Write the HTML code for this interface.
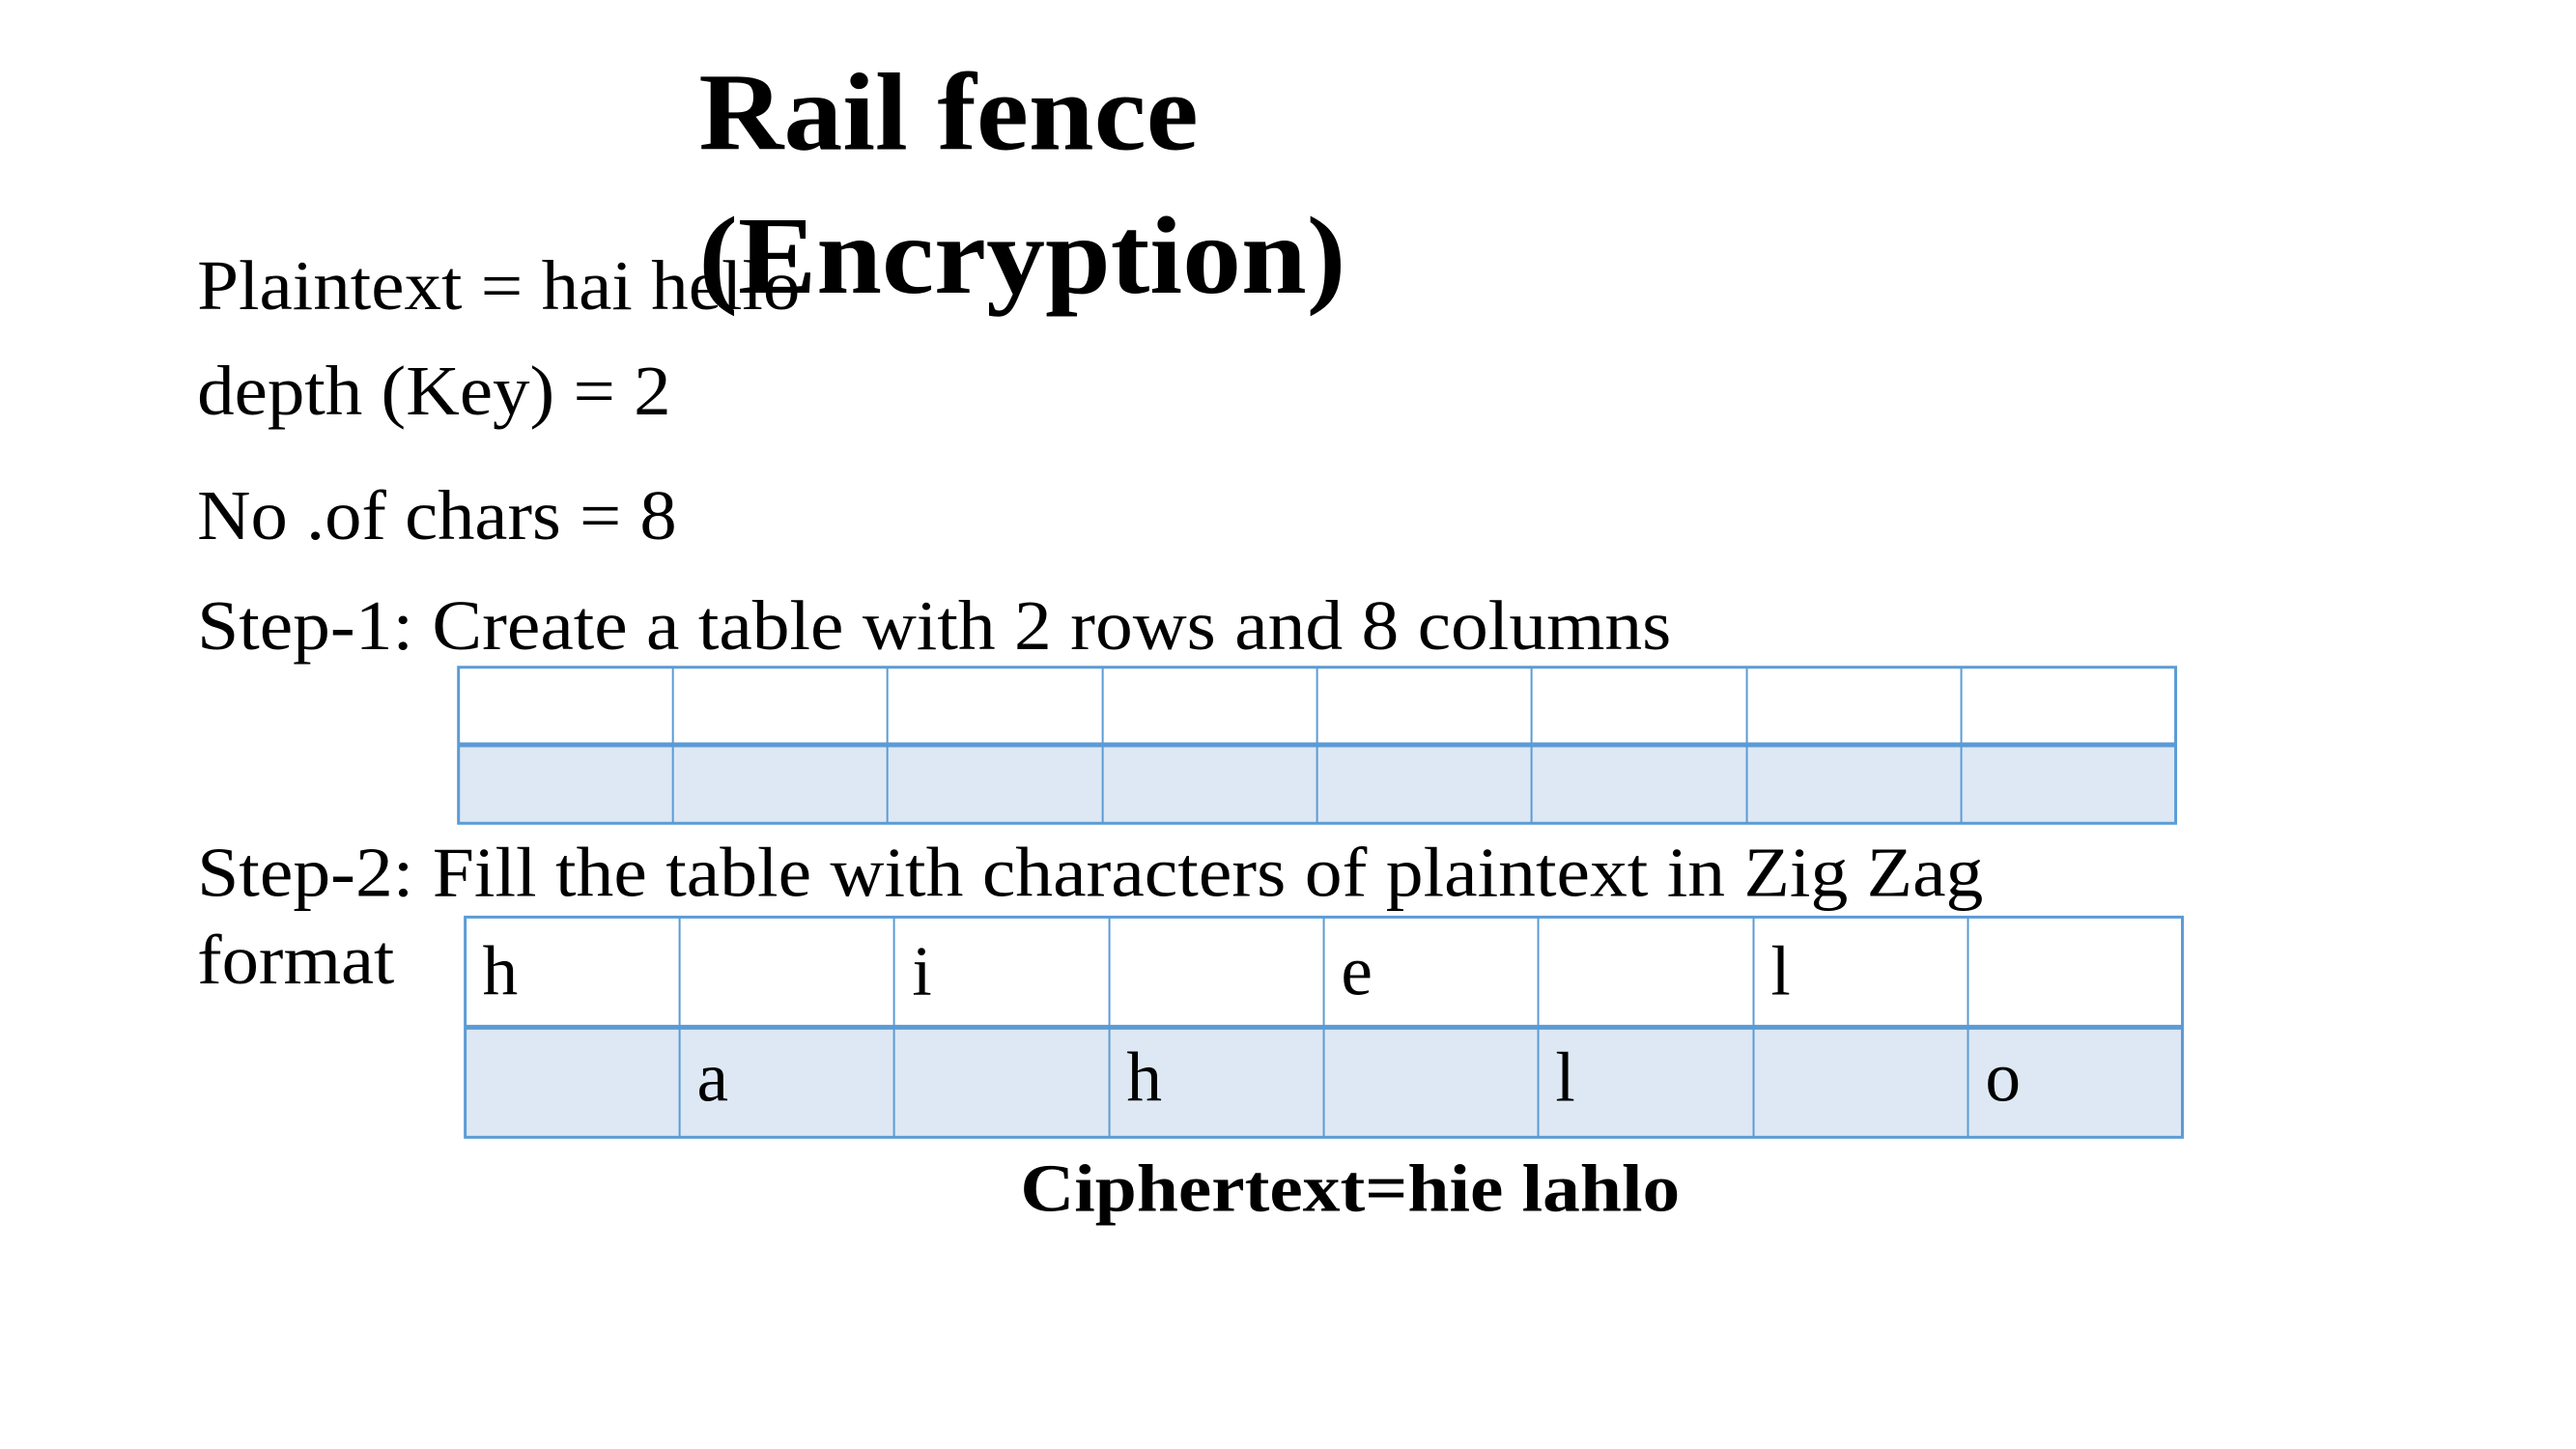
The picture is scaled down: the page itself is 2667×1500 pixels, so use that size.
<!DOCTYPE html>
<html><head><meta charset="utf-8"><style>
html,body{margin:0;padding:0;background:#fff;width:2667px;height:1500px;overflow:hidden}
svg{display:block}
text{font-family:"Liberation Serif",serif;fill:#000}
</style></head><body>
<svg width="2667" height="1500" xmlns="http://www.w3.org/2000/svg">
<g transform="scale(0.991)">
<g font-size="74">
<text x="206" y="323" textLength="630" lengthAdjust="spacingAndGlyphs">Plaintext = hai hello</text>
<text x="206" y="433" textLength="495" lengthAdjust="spacingAndGlyphs">depth (Key) = 2</text>
<text x="206" y="563" textLength="501" lengthAdjust="spacingAndGlyphs">No .of chars = 8</text>
<text x="206" y="678" textLength="1540" lengthAdjust="spacingAndGlyphs">Step-1: Create a table with 2 rows and 8 columns</text>
<text x="206" y="936" textLength="1866" lengthAdjust="spacingAndGlyphs">Step-2: Fill the table with characters of plaintext in Zig Zag</text>
<text x="206" y="1027" textLength="206" lengthAdjust="spacingAndGlyphs">format</text>
</g>
<g font-size="116" font-weight="bold">
<text x="730" y="156" textLength="522" lengthAdjust="spacingAndGlyphs">Rail fence</text>
<text x="730" y="306" textLength="676" lengthAdjust="spacingAndGlyphs">(Encryption)</text>
</g>
<text x="1066" y="1265" font-size="70" font-weight="bold" textLength="689" lengthAdjust="spacingAndGlyphs">Ciphertext=hie lahlo</text>

<rect x="479" y="778" width="1794" height="82" fill="#dde8f4"/>
<g stroke="#5b9bd5" fill="none">
<rect x="479" y="697" width="1794" height="163" stroke-width="3"/>
<line x1="479" y1="778" x2="2273" y2="778" stroke-width="5"/>
<g stroke-width="2">
<line x1="703" y1="697" x2="703" y2="860"/><line x1="927" y1="697" x2="927" y2="860"/>
<line x1="1152" y1="697" x2="1152" y2="860"/><line x1="1376" y1="697" x2="1376" y2="860"/>
<line x1="1600" y1="697" x2="1600" y2="860"/><line x1="1825" y1="697" x2="1825" y2="860"/>
<line x1="2049" y1="697" x2="2049" y2="860"/>
</g></g>

<rect x="486" y="1073" width="1794" height="115" fill="#dde8f4"/>
<g stroke="#5b9bd5" fill="none">
<rect x="486" y="958" width="1794" height="230" stroke-width="3"/>
<line x1="486" y1="1073" x2="2280" y2="1073" stroke-width="5"/>
<g stroke-width="2">
<line x1="710" y1="958" x2="710" y2="1188"/><line x1="934" y1="958" x2="934" y2="1188"/>
<line x1="1159" y1="958" x2="1159" y2="1188"/><line x1="1383" y1="958" x2="1383" y2="1188"/>
<line x1="1607" y1="958" x2="1607" y2="1188"/><line x1="1832" y1="958" x2="1832" y2="1188"/>
<line x1="2056" y1="958" x2="2056" y2="1188"/>
</g></g>
<g font-size="74">
<text x="504" y="1039">h</text>
<text x="953" y="1039">i</text>
<text x="1401" y="1039">e</text>
<text x="1850" y="1039">l</text>
<text x="728" y="1150">a</text>
<text x="1177" y="1150">h</text>
<text x="1625" y="1150">l</text>
<text x="2074" y="1150">o</text>
</g>
</g>
</svg>
</body></html>
